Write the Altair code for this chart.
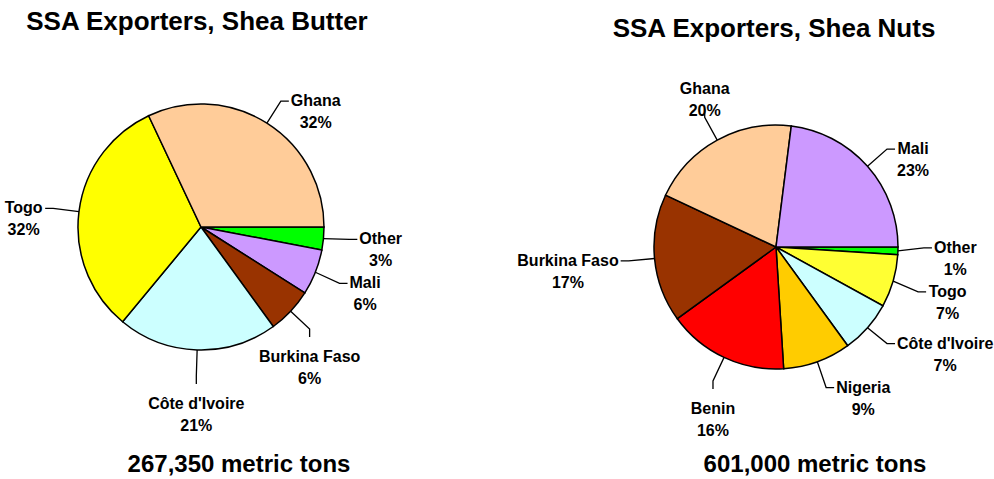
import math
import altair as alt
import pandas as pd

# ---------------- data ----------------
butter_names = ["Other", "Mali", "Burkina Faso", "Côte d'Ivoire", "Togo", "Ghana"]
butter_values = [3, 6, 6, 21, 32, 32]
butter_colors = ["#00FF00", "#CC99FF", "#993300", "#CCFFFF", "#FFFF00", "#FFCC99"]
butter_label_mode = ["side", "side", "end", "end", "side", "side"]
butter_total = "267,350 metric tons"
butter_title = "SSA Exporters, Shea Butter"

nuts_names = ["Other", "Togo", "Côte d'Ivoire", "Nigeria", "Benin", "Burkina Faso", "Ghana", "Mali"]
nuts_values = [1, 7, 7, 9, 16, 17, 20, 23]
nuts_colors = ["#00FF00", "#FFFF33", "#CCFFFF", "#FFCC00", "#FF0000", "#993300", "#FFCC99", "#CC99FF"]
nuts_label_mode = ["side", "side", "side", "side", "end", "side", "end", "side"]
nuts_total = "601,000 metric tons"
nuts_title = "SSA Exporters, Shea Nuts"

# ---------------- layout / style ----------------
FONT = "Liberation Sans"
PANEL_W, PANEL_H = 497, 479
LABEL_SIZE = 16
LINE_H = 22
BLOCK_HALF = 18
MIN_SEP = 44
TICK = 8
GAP = 2

# Arial/Liberation Sans Bold advance widths (per 1000 em)
CW = {" ": 278, "%": 889, "'": 238, "0": 556, "1": 556, "2": 556, "3": 556, "4": 556,
      "5": 556, "6": 556, "7": 556, "8": 556, "9": 556, "B": 722, "C": 722, "F": 611,
      "G": 778, "I": 278, "M": 833, "N": 722, "O": 778, "T": 611, "a": 556, "d": 611,
      "e": 556, "g": 611, "h": 611, "i": 278, "k": 556, "l": 278, "n": 611, "o": 611,
      "r": 389, "s": 556, "t": 333, "u": 611, "v": 556, "ô": 611}


def text_w(s):
    return sum(CW.get(c, 600) for c in s) / 1000 * LABEL_SIZE


def spread(items):
    """push side labels on one side apart vertically so they don't overlap"""
    items.sort(key=lambda d: d["ly"])
    for _ in range(50):
        moved = False
        for a, b in zip(items, items[1:]):
            d = b["ly"] - a["ly"]
            if d < MIN_SEP:
                push = (MIN_SEP - d) / 2
                a["ly"] -= push
                b["ly"] += push
                moved = True
        if not moved:
            break


def panel(names, values, colors, modes, title, total, cx, cy, r, title_x, title_y, total_x):
    tot = sum(values)
    df = pd.DataFrame({"name": names, "value": values, "ord": list(range(len(names)))})

    xs = alt.Scale(domain=[0, PANEL_W], range=[0, PANEL_W])
    ys = alt.Scale(domain=[0, PANEL_H], reverse=True)

    pie = alt.Chart(df).mark_arc(outerRadius=r, stroke="black", strokeWidth=1.5).encode(
        theta=alt.Theta("value:Q", stack=True,
                        scale=alt.Scale(range=[math.pi / 2, math.pi / 2 + 2 * math.pi])),
        order=alt.Order("ord:Q"),
        color=alt.Color("name:N", scale=alt.Scale(domain=names, range=colors), legend=None),
        x=alt.value(cx), y=alt.value(cy),
    )

    # leader lines and labels derived from cumulative shares
    items = []
    cum = 0
    R_el = r + 26
    for n, v, m in zip(names, values, modes):
        mid = math.pi / 2 + 2 * math.pi * (cum + v / 2) / tot
        cum += v
        s, c = math.sin(mid), math.cos(mid)
        pct = f"{round(100 * v / tot)}%"
        it = {"name": n, "pct": pct, "mode": m, "s": s, "c": c,
              "ex": cx + r * s, "ey": cy - r * c,
              "kx": cx + R_el * s, "ky": cy - R_el * c,
              "w": max(text_w(n), text_w(pct))}
        if m == "side":
            it["sgn"] = 1 if s >= 0 else -1
            it["ly"] = it["ky"]
        else:
            it["sgn"] = 1 if c < 0 else -1
            it["ly"] = it["ky"] + it["sgn"] * (TICK + GAP + BLOCK_HALF)
        items.append(it)

    spread([i for i in items if i["mode"] == "side" and i["sgn"] > 0])
    spread([i for i in items if i["mode"] == "side" and i["sgn"] < 0])

    lines, labels = [], []
    for it in items:
        if it["mode"] == "side":
            ky = it["ly"]
            kx = it["kx"]
            tx, ty = kx + it["sgn"] * TICK, ky
            lx = tx + it["sgn"] * (GAP + it["w"] / 2)
        else:
            kx, ky = it["kx"], it["ky"]
            tx, ty = kx, ky + it["sgn"] * TICK
            lx = kx
        for i, (px, py) in enumerate([(it["ex"], it["ey"]), (kx, ky), (tx, ty)]):
            lines.append({"name": it["name"], "i": i, "x": px, "y": py})
        labels.append({"name": it["name"], "txt": f"{it['name']}\n{it['pct']}",
                       "x": lx, "y": it["ly"]})

    ldf = pd.DataFrame(lines)
    tdf = pd.DataFrame(labels)

    leader = alt.Chart(ldf).mark_line(color="black", strokeWidth=1.3).encode(
        x=alt.X("x:Q", scale=xs, axis=None),
        y=alt.Y("y:Q", scale=ys, axis=None),
        detail="name:N", order="i:Q",
    )
    lab = alt.Chart(tdf).mark_text(
        font=FONT, fontSize=LABEL_SIZE, fontWeight="bold", align="center",
        baseline="middle", lineBreak="\n", lineHeight=LINE_H, color="black",
    ).encode(
        x=alt.X("x:Q", scale=xs, axis=None),
        y=alt.Y("y:Q", scale=ys, axis=None),
        text="txt:N",
    )
    ttl = alt.Chart(pd.DataFrame({"t": [title]})).mark_text(
        font=FONT, fontSize=26, fontWeight="bold", align="center", baseline="alphabetic",
        color="black",
    ).encode(text="t:N", x=alt.value(title_x), y=alt.value(title_y))
    tot_txt = alt.Chart(pd.DataFrame({"t": [total]})).mark_text(
        font=FONT, fontSize=24, fontWeight="bold", align="center", baseline="alphabetic",
        color="black",
    ).encode(text="t:N", x=alt.value(total_x), y=alt.value(472))

    return alt.layer(pie, leader, lab, ttl, tot_txt).properties(width=PANEL_W, height=PANEL_H)


left = panel(butter_names, butter_values, butter_colors, butter_label_mode, butter_title,
             butter_total, 201, 227, 123, 197, 30, 239)
right = panel(nuts_names, nuts_values, nuts_colors, nuts_label_mode, nuts_title,
              nuts_total, 279, 247, 122, 277, 37, 318)

chart = alt.hconcat(left, right, spacing=0).resolve_scale(
    color="independent", theta="independent"
).properties(
    padding=0, background="white"
).configure_view(stroke=None)

chart.save("out.html", embed_options={"renderer": "svg", "actions": False})
